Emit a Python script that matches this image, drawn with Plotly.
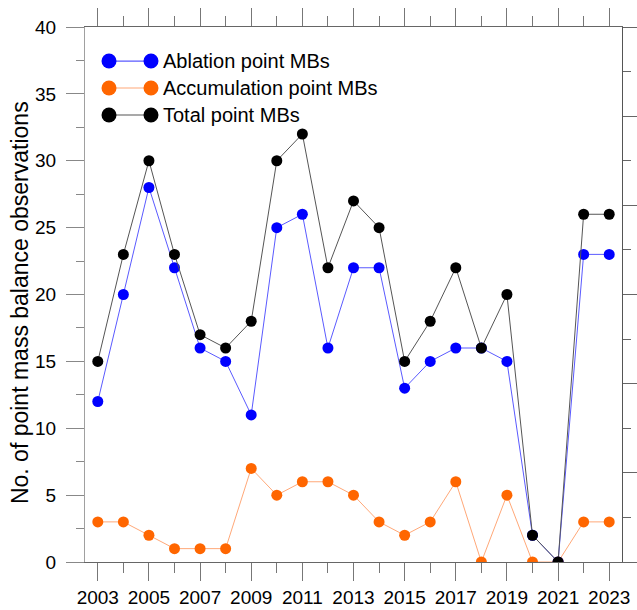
import plotly.graph_objects as go

years = list(range(2003, 2024))
ablation = [12, 20, 28, 22, 16, 15, 11, 25, 26, 16, 22, 22, 13, 15, 16, 16, 15, 2, 0, 23, 23]
accumulation = [3, 3, 2, 1, 1, 1, 7, 5, 6, 6, 5, 3, 2, 3, 6, 0, 5, 0, 0, 3, 3]
total = [15, 23, 30, 23, 17, 16, 18, 30, 32, 22, 27, 25, 15, 18, 22, 16, 20, 2, 0, 26, 26]

series_names = ["Ablation point MBs", "Accumulation point MBs", "Total point MBs"]
marker_colors = ["#0000ff", "#ff6600", "#000000"]
line_colors = ["#5a5aff", "#ffa878", "#555555"]
series_values = [ablation, accumulation, total]
y_title = "No. of point mass balance observations"

FONT = "Liberation Sans, Arial, sans-serif"

fig = go.Figure()
# draw order: accumulation, ablation, total (total on top)
for idx in [1, 0, 2]:
    fig.add_trace(go.Scatter(
        x=years, y=series_values[idx], mode="lines+markers", name=series_names[idx],
        line=dict(color=line_colors[idx], width=1),
        marker=dict(color=marker_colors[idx], size=11),
        showlegend=False,
    ))

# invisible trace for the right axis
fig.add_trace(go.Scatter(x=[None], y=[None], yaxis="y2", showlegend=False, hoverinfo="skip"))

# manual legend (two markers joined by a line, as in the reference)
row_y = [0.9364, 0.886, 0.8355]
mx0, mx1, tx = 0.0447, 0.1229, 0.1420
shapes = []
annotations = []
for i, name in enumerate(series_names):
    y = row_y[i]
    shapes.append(dict(type="line", xref="paper", yref="paper", x0=mx0, x1=mx1, y0=y, y1=y,
                       line=dict(color=line_colors[i], width=1.2)))
    for mx in (mx0, mx1):
        shapes.append(dict(type="circle", xref="paper", yref="paper",
                           xsizemode="pixel", ysizemode="pixel",
                           xanchor=mx, yanchor=y, x0=-7.5, x1=7.5, y0=-7.5, y1=7.5,
                           fillcolor=marker_colors[i], line=dict(width=0)))
    annotations.append(dict(xref="paper", yref="paper", x=tx, y=y, xanchor="left", yanchor="middle",
                            text=name, showarrow=False, font=dict(family=FONT, size=20, color="#000")))

# y-axis title
annotations.append(dict(xref="paper", yref="paper", x=-0.121, y=0.484, xanchor="center", yanchor="middle",
                        text=y_title, textangle=-90, showarrow=False,
                        font=dict(family=FONT, size=23, color="#000")))

fig.update_layout(
    width=637, height=610,
    margin=dict(l=85, r=15, t=27, b=48),
    paper_bgcolor="white", plot_bgcolor="white",
    font=dict(family=FONT, size=19, color="#000"),
    shapes=shapes, annotations=annotations,
    xaxis=dict(
        range=[2002.5, 2023.5], tick0=2003, dtick=2, ticks="outside", ticklen=18,
        tickcolor="#777", tickwidth=1, showline=True, linecolor="#666", linewidth=1,
        mirror="ticks", showgrid=False, zeroline=False, automargin=False,
        minor=dict(dtick=1, tick0=2003, ticks="outside", ticklen=10, tickcolor="#777", tickwidth=1),
        tickfont=dict(size=19),
    ),
    yaxis=dict(
        range=[0, 40], dtick=5, ticks="outside", ticklen=18, tickcolor="#888", tickwidth=1,
        showline=True, linecolor="#a0a0a0", linewidth=1, showgrid=False, zeroline=False,
        automargin=False,
        minor=dict(dtick=2.5, ticks="outside", ticklen=8, tickcolor="#888", tickwidth=1),
        tickfont=dict(size=19), ticklabelstandoff=6,
    ),
    yaxis2=dict(
        overlaying="y", side="right", anchor="x", range=[0, 12], dtick=2,
        ticks="outside", ticklen=16, tickcolor="#666", tickwidth=1,
        showline=True, linecolor="#555", linewidth=1, showticklabels=False,
        showgrid=False, zeroline=False, automargin=False,
        minor=dict(dtick=1, ticks="outside", ticklen=8, tickcolor="#666", tickwidth=1),
    ),
)

fig.write_html(
    "out.html",
    config={"displayModeBar": False},
    post_script="document.body.style.margin='0px';document.body.style.overflow='hidden';",
)
